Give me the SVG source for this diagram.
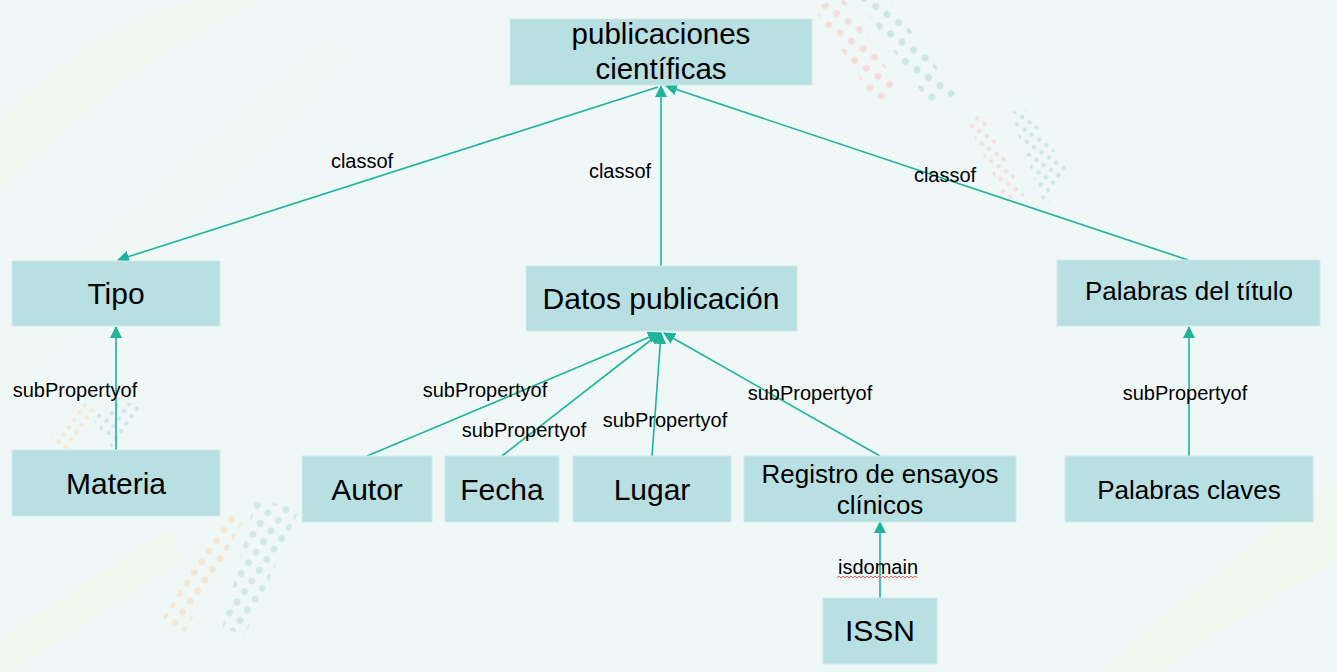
<svg xmlns="http://www.w3.org/2000/svg" width="1337" height="672" viewBox="0 0 1337 672">
<defs>
<style>
.node{fill:#b8dfe1;stroke:#cfeaea;stroke-width:1}
.t{font-family:"Liberation Sans",Arial,sans-serif;fill:#000;text-anchor:middle}
.big{font-size:30px}
.mid{font-size:26px}
.lbl{font-family:"Liberation Sans",Arial,sans-serif;font-size:20px;fill:#000;text-anchor:middle}
.edge{stroke:#1fb39a;stroke-width:1.6;fill:none}
</style>
<marker id="ah" viewBox="0 0 12 12" refX="11" refY="6" markerWidth="12" markerHeight="12" markerUnits="userSpaceOnUse" orient="auto">
<path d="M0,0 L12,6 L0,12 z" fill="#1fb39a"/>
</marker>
<pattern id="dPink" width="14" height="14" patternUnits="userSpaceOnUse" patternTransform="rotate(35)"><circle cx="7" cy="7" r="3.5" fill="#f7dcdc"/></pattern>
<pattern id="dTeal" width="14" height="14" patternUnits="userSpaceOnUse" patternTransform="rotate(35)"><circle cx="7" cy="7" r="3.5" fill="#cfe6e6"/></pattern>
<pattern id="sPink" width="9" height="9" patternUnits="userSpaceOnUse" patternTransform="rotate(35)"><circle cx="4.5" cy="4.5" r="2.2" fill="#f7dcdc"/></pattern>
<pattern id="sTeal" width="9" height="9" patternUnits="userSpaceOnUse" patternTransform="rotate(35)"><circle cx="4.5" cy="4.5" r="2.2" fill="#cfe6e6"/></pattern>
<pattern id="sOr" width="9" height="9" patternUnits="userSpaceOnUse" patternTransform="rotate(35)"><circle cx="4.5" cy="4.5" r="2.2" fill="#f6e6d4"/></pattern>
<pattern id="dOr" width="13" height="13" patternUnits="userSpaceOnUse" patternTransform="rotate(35)"><circle cx="6.5" cy="6.5" r="3.4" fill="#f6e6d4"/></pattern>
<pattern id="dTeal2" width="13" height="13" patternUnits="userSpaceOnUse" patternTransform="rotate(35)"><circle cx="6.5" cy="6.5" r="3.4" fill="#d3e8e8"/></pattern>
</defs>
<rect x="0" y="0" width="1337" height="672" fill="#eff8f6"/>
<g id="background">
<path d="M0,120 C60,60 120,20 200,0 L260,0 C170,40 80,110 0,190 z" fill="#f0f7f1"/>
<path d="M0,330 C100,240 200,150 330,40 L350,55 C240,170 120,290 0,400 z" fill="#f0f6f4"/>
<path d="M0,640 C60,600 120,560 170,530 L180,560 C120,600 60,640 10,672 L0,672 z" fill="#f0f7ef"/>
<path d="M1100,672 C1180,600 1260,540 1337,480 L1337,560 C1270,600 1200,640 1160,672 z" fill="#f0f7ef"/>
<polygon points="814,8 842,-4 900,90 876,104" fill="url(#dPink)"/>
<polygon points="856,-4 885,-6 956,94 932,108" fill="url(#dTeal)"/>
<polygon points="966,120 982,114 1025,196 1008,206" fill="url(#sPink)"/>
<polygon points="1010,112 1026,110 1068,170 1045,208" fill="url(#sTeal)"/>
<polygon points="50,440 86,402 102,408 68,450" fill="url(#sOr)"/>
<polygon points="92,418 118,400 142,406 112,448" fill="url(#sTeal)"/>
<polygon points="163,618 225,512 245,518 185,632" fill="url(#dOr)"/>
<polygon points="222,628 255,500 300,508 245,636" fill="url(#dTeal2)"/>
</g>
<g id="connectors">
<line class="edge" x1="658" y1="87" x2="118" y2="260" marker-end="url(#ah)"/>
<line class="edge" x1="661" y1="266" x2="661" y2="86" marker-end="url(#ah)"/>
<line class="edge" x1="1188" y1="260" x2="666" y2="86" marker-end="url(#ah)"/>
<line class="edge" x1="116" y1="450" x2="116" y2="327" marker-end="url(#ah)"/>
<line class="edge" x1="367" y1="456" x2="659" y2="333" marker-end="url(#ah)"/>
<line class="edge" x1="502" y1="456" x2="660" y2="333" marker-end="url(#ah)"/>
<line class="edge" x1="652" y1="456" x2="661" y2="333" marker-end="url(#ah)"/>
<line class="edge" x1="880" y1="456" x2="664" y2="333" marker-end="url(#ah)"/>
<line class="edge" x1="1189" y1="456" x2="1189" y2="327" marker-end="url(#ah)"/>
<line class="edge" x1="880" y1="598" x2="880" y2="522" marker-end="url(#ah)"/>
<text class="lbl" x="362" y="168">classof</text>
<text class="lbl" x="620" y="178">classof</text>
<text class="lbl" x="945" y="182">classof</text>
<text class="lbl" x="75" y="397">subPropertyof</text>
<text class="lbl" x="485" y="397">subPropertyof</text>
<text class="lbl" x="524" y="437">subPropertyof</text>
<text class="lbl" x="665" y="427">subPropertyof</text>
<text class="lbl" x="810" y="400">subPropertyof</text>
<text class="lbl" x="1185" y="400">subPropertyof</text>
<text class="lbl" x="878" y="574">isdomain</text>
<path d="M837,578 l2,-2 l2,2 l2,-2 l2,2 l2,-2 l2,2 l2,-2 l2,2 l2,-2 l2,2 l2,-2 l2,2 l2,-2 l2,2 l2,-2 l2,2 l2,-2 l2,2 l2,-2 l2,2 l2,-2 l2,2 l2,-2 l2,2 l2,-2 l2,2 l2,-2 l2,2 l2,-2 l2,2 l2,-2 l2,2 l2,-2 l2,2 l2,-2 l2,2 l2,-2 l2,2 l2,-2 l2,2" fill="none" stroke="#f06060" stroke-width="1"/>
</g>
<g id="n-publicaciones">
<rect class="node" x="510" y="19" width="302" height="66"/>
<text class="t" x="661" y="44" font-size="29.5">publicaciones</text>
<text class="t" x="661" y="79" font-size="29.5">científicas</text>
</g>
<g id="n-tipo">
<rect class="node" x="12" y="261" width="208" height="65"/>
<text class="t big" x="116" y="304">Tipo</text>
</g>
<g id="n-datos">
<rect class="node" x="526" y="266" width="271" height="65"/>
<text class="t big" x="661" y="309">Datos publicación</text>
</g>
<g id="n-palabras-titulo">
<rect class="node" x="1057" y="260" width="263" height="66"/>
<text class="t mid" x="1189" y="300">Palabras del título</text>
</g>
<g id="n-materia">
<rect class="node" x="12" y="450" width="208" height="66"/>
<text class="t big" x="116" y="494">Materia</text>
</g>
<g id="n-autor">
<rect class="node" x="302" y="456" width="130" height="66"/>
<text class="t big" x="367" y="500">Autor</text>
</g>
<g id="n-fecha">
<rect class="node" x="445" y="456" width="114" height="66"/>
<text class="t big" x="502" y="500">Fecha</text>
</g>
<g id="n-lugar">
<rect class="node" x="573" y="456" width="158" height="66"/>
<text class="t big" x="652" y="500">Lugar</text>
</g>
<g id="n-registro">
<rect class="node" x="744" y="456" width="272" height="66"/>
<text class="t mid" x="880" y="483">Registro de ensayos</text>
<text class="t mid" x="880" y="514">clínicos</text>
</g>
<g id="n-palabras-claves">
<rect class="node" x="1065" y="456" width="248" height="66"/>
<text class="t mid" x="1189" y="499">Palabras claves</text>
</g>
<g id="n-issn">
<rect class="node" x="823" y="598" width="114" height="66"/>
<text class="t big" x="880" y="641">ISSN</text>
</g>
</svg>
